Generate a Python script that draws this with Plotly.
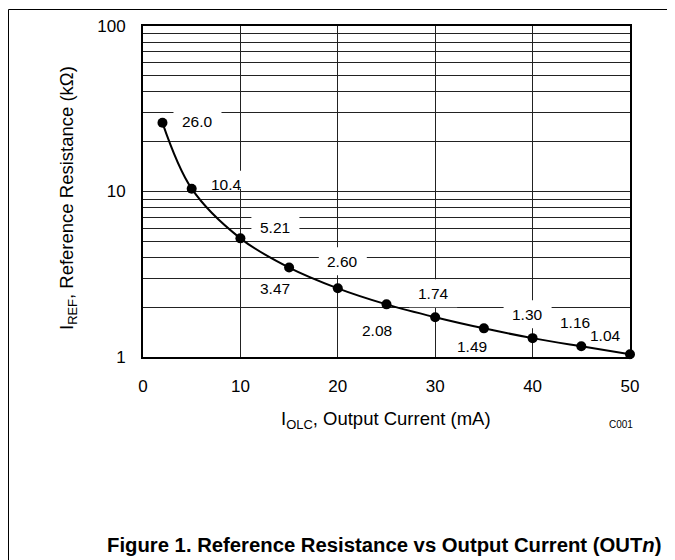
import plotly.graph_objects as go
import math

# ---- data ----
current_mA = [2, 5, 10, 15, 20, 25, 30, 35, 40, 45, 50]
resistance_kohm = [26.0, 10.4, 5.21, 3.47, 2.60, 2.08, 1.74, 1.49, 1.30, 1.16, 1.04]
x_ticks = [0, 10, 20, 30, 40, 50]
y_grid = [1, 2, 3, 4, 5, 6, 7, 8, 9, 10, 20, 30, 40, 50, 60, 70, 80, 90, 100]
y_labels = {1: "1", 10: "10", 100: "100"}

# label placement (screen pixel offsets from the point: dx right, dy down)
label_offsets = [(35, -1), (35, -4), (35, -11), (-14, 21), (5, -27), (-10, 26),
                 (-2, -24), (-12, 18), (-5, -24), (-6, -24), (-25, -19)]

FONT = "Liberation Sans, Arial, Helvetica, sans-serif"

# page has an 8px body margin: figure pixel = screenshot pixel - 8
OFF = 8
W, H = 675 - OFF, 560 - OFF
L, R, T, B = 143 - OFF, 630 - OFF, 26 - OFF, 357 - OFF
pw, ph = R - L, B - T


def px2paper_x(px):
    return (px - OFF - L) / pw


def px2paper_y(py):
    return (B - (py - OFF)) / ph


fig = go.Figure()
fig.add_trace(go.Scatter(
    x=current_mA, y=resistance_kohm, mode="lines+markers",
    line=dict(color="black", width=2, shape="spline"),
    marker=dict(color="black", size=10),
    cliponaxis=False, hoverinfo="skip", showlegend=False,
))

shapes = []
annotations = []
for xv, yv, (dx, dy) in zip(current_mA, resistance_kohm, label_offsets):
    shapes.append(dict(
        type="rect", xref="x", yref="y", layer="between",
        xsizemode="pixel", ysizemode="pixel",
        xanchor=xv, yanchor=yv,
        x0=dx - 24, x1=dx + 24, y0=-dy - 14, y1=-dy + 14,
        fillcolor="white", line=dict(width=0),
    ))
    annotations.append(dict(
        x=xv, y=math.log10(yv), xref="x", yref="y",
        text=f"{yv:#.3g}", showarrow=False,
        xshift=dx, yshift=-dy,
        font=dict(family=FONT, size=15.5, color="black"),
    ))

# outer frame (top and left lines)
shapes.append(dict(type="line", xref="paper", yref="paper",
                   x0=px2paper_x(8.5), x1=px2paper_x(690), y0=px2paper_y(9.5), y1=px2paper_y(9.5),
                   line=dict(color="black", width=1)))
shapes.append(dict(type="line", xref="paper", yref="paper",
                   x0=px2paper_x(8.5), x1=px2paper_x(8.5), y0=px2paper_y(9.5), y1=px2paper_y(580),
                   line=dict(color="black", width=1)))

annotations += [
    dict(text="I<sub>REF</sub>, Reference Resistance (kΩ)", xref="paper", yref="paper",
         x=px2paper_x(68), y=px2paper_y(198), textangle=-90, showarrow=False,
         xanchor="center", yanchor="middle",
         font=dict(family=FONT, size=18.5, color="black")),
    dict(text="I<sub>OLC</sub>, Output Current (mA)", xref="paper", yref="paper",
         x=px2paper_x(386), y=px2paper_y(420), showarrow=False,
         xanchor="center", yanchor="middle",
         font=dict(family=FONT, size=18.5, color="black")),
    dict(text="C001", xref="paper", yref="paper",
         x=px2paper_x(621), y=px2paper_y(424), showarrow=False,
         xanchor="center", yanchor="middle",
         font=dict(family=FONT, size=10, color="black")),
    dict(text="<b>Figure 1. Reference Resistance vs Output Current (OUT<i>n</i>)</b>",
         xref="paper", yref="paper",
         x=px2paper_x(384), y=px2paper_y(545), showarrow=False,
         xanchor="center", yanchor="middle",
         font=dict(family=FONT, size=20.3, color="black")),
]

fig.update_layout(
    width=W, height=H,
    margin=dict(l=L, r=W - R, t=T, b=H - B, autoexpand=False),
    paper_bgcolor="white", plot_bgcolor="white",
    font=dict(family=FONT, size=17, color="black"),
    shapes=shapes, annotations=annotations,
    showlegend=False,
)
fig.update_xaxes(
    range=[0, 50], tickvals=x_ticks, ticktext=[str(t) for t in x_ticks],
    showgrid=True, gridcolor="#222", gridwidth=1, zeroline=False,
    showline=True, linecolor="black", linewidth=2, mirror=True,
    ticks="outside", ticklen=13, tickcolor="rgba(0,0,0,0)",
    tickfont=dict(family=FONT, size=17, color="black"),
)
fig.update_yaxes(
    type="log", range=[0, 2], tickvals=y_grid,
    ticktext=[y_labels.get(v, "") for v in y_grid],
    showgrid=True, gridcolor="#222", gridwidth=1, zeroline=False,
    showline=True, linecolor="black", linewidth=2, mirror=True,
    ticks="outside", ticklen=12, tickcolor="rgba(0,0,0,0)",
    tickfont=dict(family=FONT, size=17, color="black"),
)

fig.write_html("out.html")
